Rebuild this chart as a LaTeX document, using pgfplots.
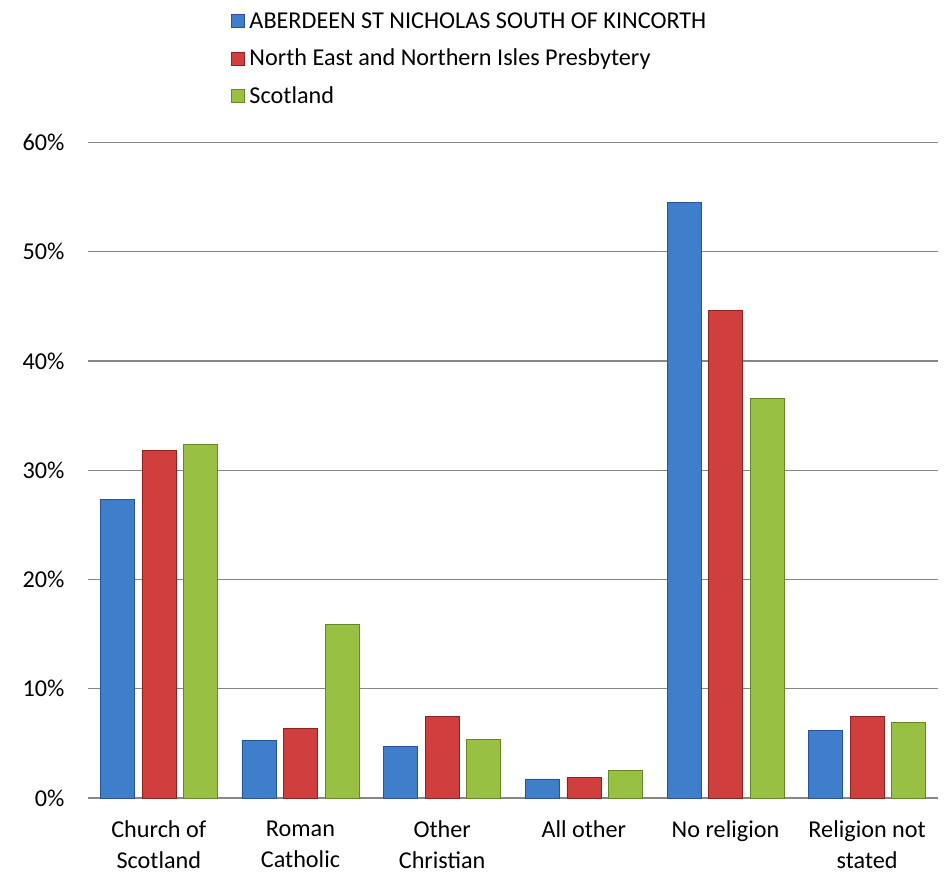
\documentclass[border=0pt]{standalone}
\usepackage{fontspec}
\setmainfont{Carlito}
\usepackage{pgfplots}
\pgfplotsset{compat=1.18}
\definecolor{cblue}{RGB}{62,126,202}
\definecolor{cbluedk}{RGB}{38,84,150}
\definecolor{cred}{RGB}{208,62,62}
\definecolor{creddk}{RGB}{140,35,35}
\definecolor{cgreen}{RGB}{152,192,66}
\definecolor{cgreendk}{RGB}{100,135,40}
\definecolor{gridgray}{RGB}{134,134,134}
\pgfplotsset{
  sq legend/.style={legend image code/.code={\draw[##1, line width=0.5bp] (0bp,-6.5bp) rectangle (13bp,6.5bp);}},
}
\begin{document}
\begin{tikzpicture}
\begin{axis}[
  scale only axis, width=850bp, height=655.5bp,
  ybar=7.5bp, bar width=34bp,
  xmin=-0.5, xmax=5.5, ymin=0, ymax=60,
  xtick={0,...,5},
  xticklabels={Church of\\Scotland, Roman\\Catholic, Other\\Christian, All other, No religion, Religion not\\stated},
  xticklabel style={align=center, anchor=north, yshift=-19bp, font=\fontsize{24.2bp}{31bp}\selectfont},
  ytick={0,10,...,60},
  yticklabels={0\%,10\%,20\%,30\%,40\%,50\%,60\%},
  yticklabel style={xshift=-20bp, font=\fontsize{24.2bp}{29bp}\selectfont},
  ymajorgrids, grid style={draw=gridgray, line width=1.3bp},
  axis line style={draw=none},
  major tick length=0pt,
  legend style={at={(0.168,1.2017)}, anchor=north west, draw=none, fill=none,
    legend cell align=left, row sep=15.5bp, inner sep=0pt,
    /tikz/every odd column/.append style={column sep=3bp},
    font=\fontsize{24.2bp}{29bp}\selectfont},
]
\addplot[sq legend, draw=cbluedk, line width=0.6bp, fill=cblue]
  coordinates {(0,27.3) (1,5.3) (2,4.7) (3,1.75) (4,54.5) (5,6.2)};
\addlegendentry{ABERDEEN ST NICHOLAS SOUTH OF KINCORTH}
\addplot[sq legend, draw=creddk, line width=0.6bp, fill=cred]
  coordinates {(0,31.8) (1,6.4) (2,7.5) (3,1.9) (4,44.6) (5,7.5)};
\addlegendentry{North East and Northern Isles Presbytery}
\addplot[sq legend, draw=cgreendk, line width=0.6bp, fill=cgreen]
  coordinates {(0,32.4) (1,15.9) (2,5.4) (3,2.5) (4,36.6) (5,6.9)};
\addlegendentry{Scotland}
\end{axis}
\pgfresetboundingbox
\path (-88bp,-75bp) rectangle (860bp,798bp);
\end{tikzpicture}
\end{document}
